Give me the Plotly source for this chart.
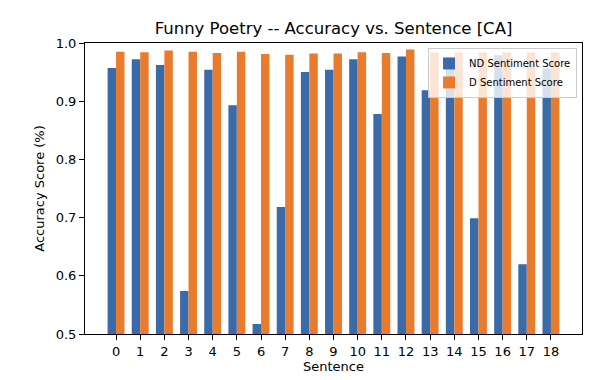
import plotly.graph_objects as go

sentences = list(range(19))
tick_labels = [str(s) for s in sentences]
nd_scores = [0.957, 0.972, 0.962, 0.574, 0.954, 0.893, 0.517, 0.718, 0.950, 0.954,
             0.972, 0.878, 0.977, 0.919, 0.957, 0.699, 0.979, 0.620, 0.956]
d_scores = [0.985, 0.984, 0.987, 0.985, 0.983, 0.985, 0.981, 0.980, 0.982, 0.982,
            0.984, 0.983, 0.989, 0.984, 0.984, 0.984, 0.984, 0.984, 0.984]

BLUE = "#3a6aa8"
ORANGE = "#e97b2c"
FONT = "DejaVu Sans"

fig = go.Figure()
fig.add_trace(go.Bar(x=sentences, y=nd_scores, name="ND Sentiment Score",
                     marker=dict(color=BLUE, line=dict(width=0))))
fig.add_trace(go.Bar(x=sentences, y=d_scores, name="D Sentiment Score",
                     marker=dict(color=ORANGE, line=dict(width=0))))

fig.update_layout(
    template="none",
    width=599, height=380,
    margin=dict(l=77, r=25, t=35, b=54, autoexpand=False),
    paper_bgcolor="white", plot_bgcolor="white",
    barmode="group", bargap=0.3, bargroupgap=0,
    font=dict(family=FONT, color="black", size=13),
    title=dict(text="Funny Poetry -- Accuracy vs. Sentence [CA]",
               x=(77 + 574) / 2 / 599, xanchor="center",
               y=1 - 20 / 380, yanchor="middle",
               font=dict(size=16.5, family=FONT, color="black")),
    legend=dict(x=0.99, y=0.983, xanchor="right", yanchor="top",
                bgcolor="rgba(255,255,255,0.8)", bordercolor="#cccccc", borderwidth=1,
                font=dict(size=10, family=FONT), tracegroupgap=0,
                itemwidth=30),
    showlegend=True,
)
fig.update_xaxes(
    automargin=False,
    range=[-1.285, 19.285], tickmode="array", tickvals=sentences, ticktext=tick_labels,
    showline=True, linecolor="black", linewidth=1.1, mirror=True,
    ticks="outside", ticklen=5, tickcolor="black", tickwidth=1,
    showgrid=False, zeroline=False,
    title=dict(text="Sentence", font=dict(size=13), standoff=4),
    tickfont=dict(size=13),
)
fig.update_yaxes(
    automargin=False,
    range=[0.5, 1.0], tickmode="array", tickvals=[0.5, 0.6, 0.7, 0.8, 0.9, 1.0],
    ticktext=["0.5", "0.6", "0.7", "0.8", "0.9", "1.0"],
    showline=True, linecolor="black", linewidth=1.1, mirror=True,
    ticks="outside", ticklen=5, tickcolor="black", tickwidth=1,
    showgrid=False, zeroline=False,
    title=dict(text="Accuracy Score (%)", font=dict(size=13), standoff=8),
    tickfont=dict(size=13),
)

fig.write_html("out.html")
